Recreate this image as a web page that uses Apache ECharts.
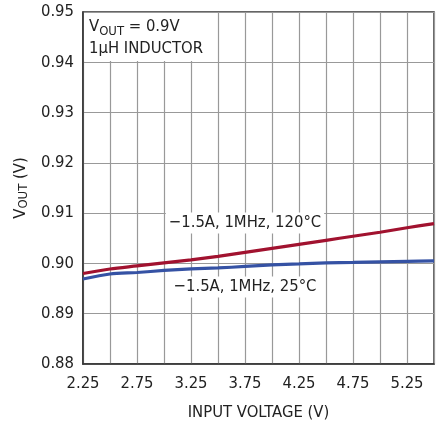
<!DOCTYPE html>
<html>
<head>
<meta charset="utf-8">
<script src="https://cdn.jsdelivr.net/npm/echarts@6/dist/echarts.min.js"></script>
<style>
  html, body { margin: 0; padding: 0; background: #fff; }
  #chart { width: 438px; height: 421px; }
</style>
</head>
<body>
<div id="chart"></div>
<script>
// input voltage (V)
const vin = [2.25, 2.5, 2.75, 3.0, 3.25, 3.5, 3.75, 4.0, 4.25, 4.5, 4.75, 5.0, 5.25, 5.5];
// VOUT at -1.5A, 1MHz, 120°C
const vout120 = [0.8980, 0.8989, 0.8995, 0.9001, 0.9007, 0.9014, 0.9022, 0.9030, 0.9038, 0.9046, 0.9054, 0.9062, 0.9071, 0.9079];
// VOUT at -1.5A, 1MHz, 25°C
const vout25 = [0.8969, 0.8979, 0.8982, 0.8986, 0.8989, 0.8991, 0.8994, 0.8997, 0.8999, 0.9001, 0.9002, 0.9003, 0.9004, 0.9005];

const FONT = '"DejaVu Sans Condensed", "Liberation Sans", Arial, sans-serif';
const chart = echarts.init(document.getElementById('chart'));

const toPairs = (ys) => vin.map((x, i) => [x, ys[i]]);

chart.setOption({
  animation: false,
  textStyle: { fontFamily: FONT },
  grid: {
    left: 83, right: 4, top: 12, bottom: 57,
    outerBoundsMode: 'none',
    show: true, borderColor: '#333', borderWidth: 1.5
  },
  xAxis: {
    type: 'value',
    min: 2.25, max: 5.5, interval: 0.25,
    name: 'INPUT VOLTAGE (V)',
    nameLocation: 'middle',
    nameGap: 40,
    nameTextStyle: { fontSize: 16.5, color: '#222', fontFamily: FONT },
    axisLine: { lineStyle: { color: '#333', width: 1.5 } },
    axisTick: { show: false },
    axisLabel: {
      fontSize: 16.5, color: '#222', fontFamily: FONT, margin: 11,
      formatter: (v) => (Math.round((v - 2.25) * 100) % 50 === 0 ? v.toFixed(2) : '')
    },
    splitLine: { show: true, lineStyle: { color: '#999', width: 1.2 } }
  },
  yAxis: {
    type: 'value',
    min: 0.88, max: 0.95, interval: 0.01,
    name: 'V{sub|OUT} (V)',
    nameLocation: 'middle',
    nameGap: 52,
    nameTextStyle: {
      fontSize: 16.5, color: '#222', fontFamily: FONT,
      rich: { sub: { fontSize: 13, fontFamily: FONT, color: '#222', verticalAlign: 'bottom', padding: [5, 0, 0, 0] } }
    },
    axisLine: { show: true, lineStyle: { color: '#333', width: 1.5 } },
    axisTick: { show: false },
    axisLabel: {
      fontSize: 16.5, color: '#222', fontFamily: FONT, margin: 9,
      formatter: (v) => v.toFixed(2)
    },
    splitLine: { show: true, lineStyle: { color: '#999', width: 1.2 } }
  },
  graphic: [
    // white box behind the condition text
    { type: 'rect', z: 1, shape: { x: 84, y: 13, width: 133, height: 48 }, style: { fill: '#fff' } },
    {
      type: 'text', z: 2, left: 89, top: 16,
      style: {
        text: 'V{sub|OUT} = 0.9V\n1μH INDUCTOR',
        font: '16.5px ' + FONT, fill: '#222', lineHeight: 22,
        rich: { sub: { fontSize: 13, fontFamily: FONT, fill: '#222', verticalAlign: 'bottom', padding: [5, 0, 0, 0] } }
      }
    },
    {
      type: 'text', z: 1, x: 245, y: 223,
      style: {
        text: '\u22121.5A, 1MHz, 120°C', font: '16.5px ' + FONT, fill: '#222',
        align: 'center', verticalAlign: 'middle', backgroundColor: '#fff', padding: [2, 3]
      }
    },
    {
      type: 'text', z: 1, x: 245, y: 287,
      style: {
        text: '\u22121.5A, 1MHz, 25°C', font: '16.5px ' + FONT, fill: '#222',
        align: 'center', verticalAlign: 'middle', backgroundColor: '#fff', padding: [2, 3]
      }
    }
  ],
  series: [
    {
      name: '120°C', type: 'line', z: 3, data: toPairs(vout120),
      showSymbol: false, smooth: 0.3,
      lineStyle: { color: '#A1122F', width: 3.2 }
    },
    {
      name: '25°C', type: 'line', z: 3, data: toPairs(vout25),
      showSymbol: false, smooth: 0.3,
      lineStyle: { color: '#3552A4', width: 3.2 }
    }
  ]
});
</script>
</body>
</html>
